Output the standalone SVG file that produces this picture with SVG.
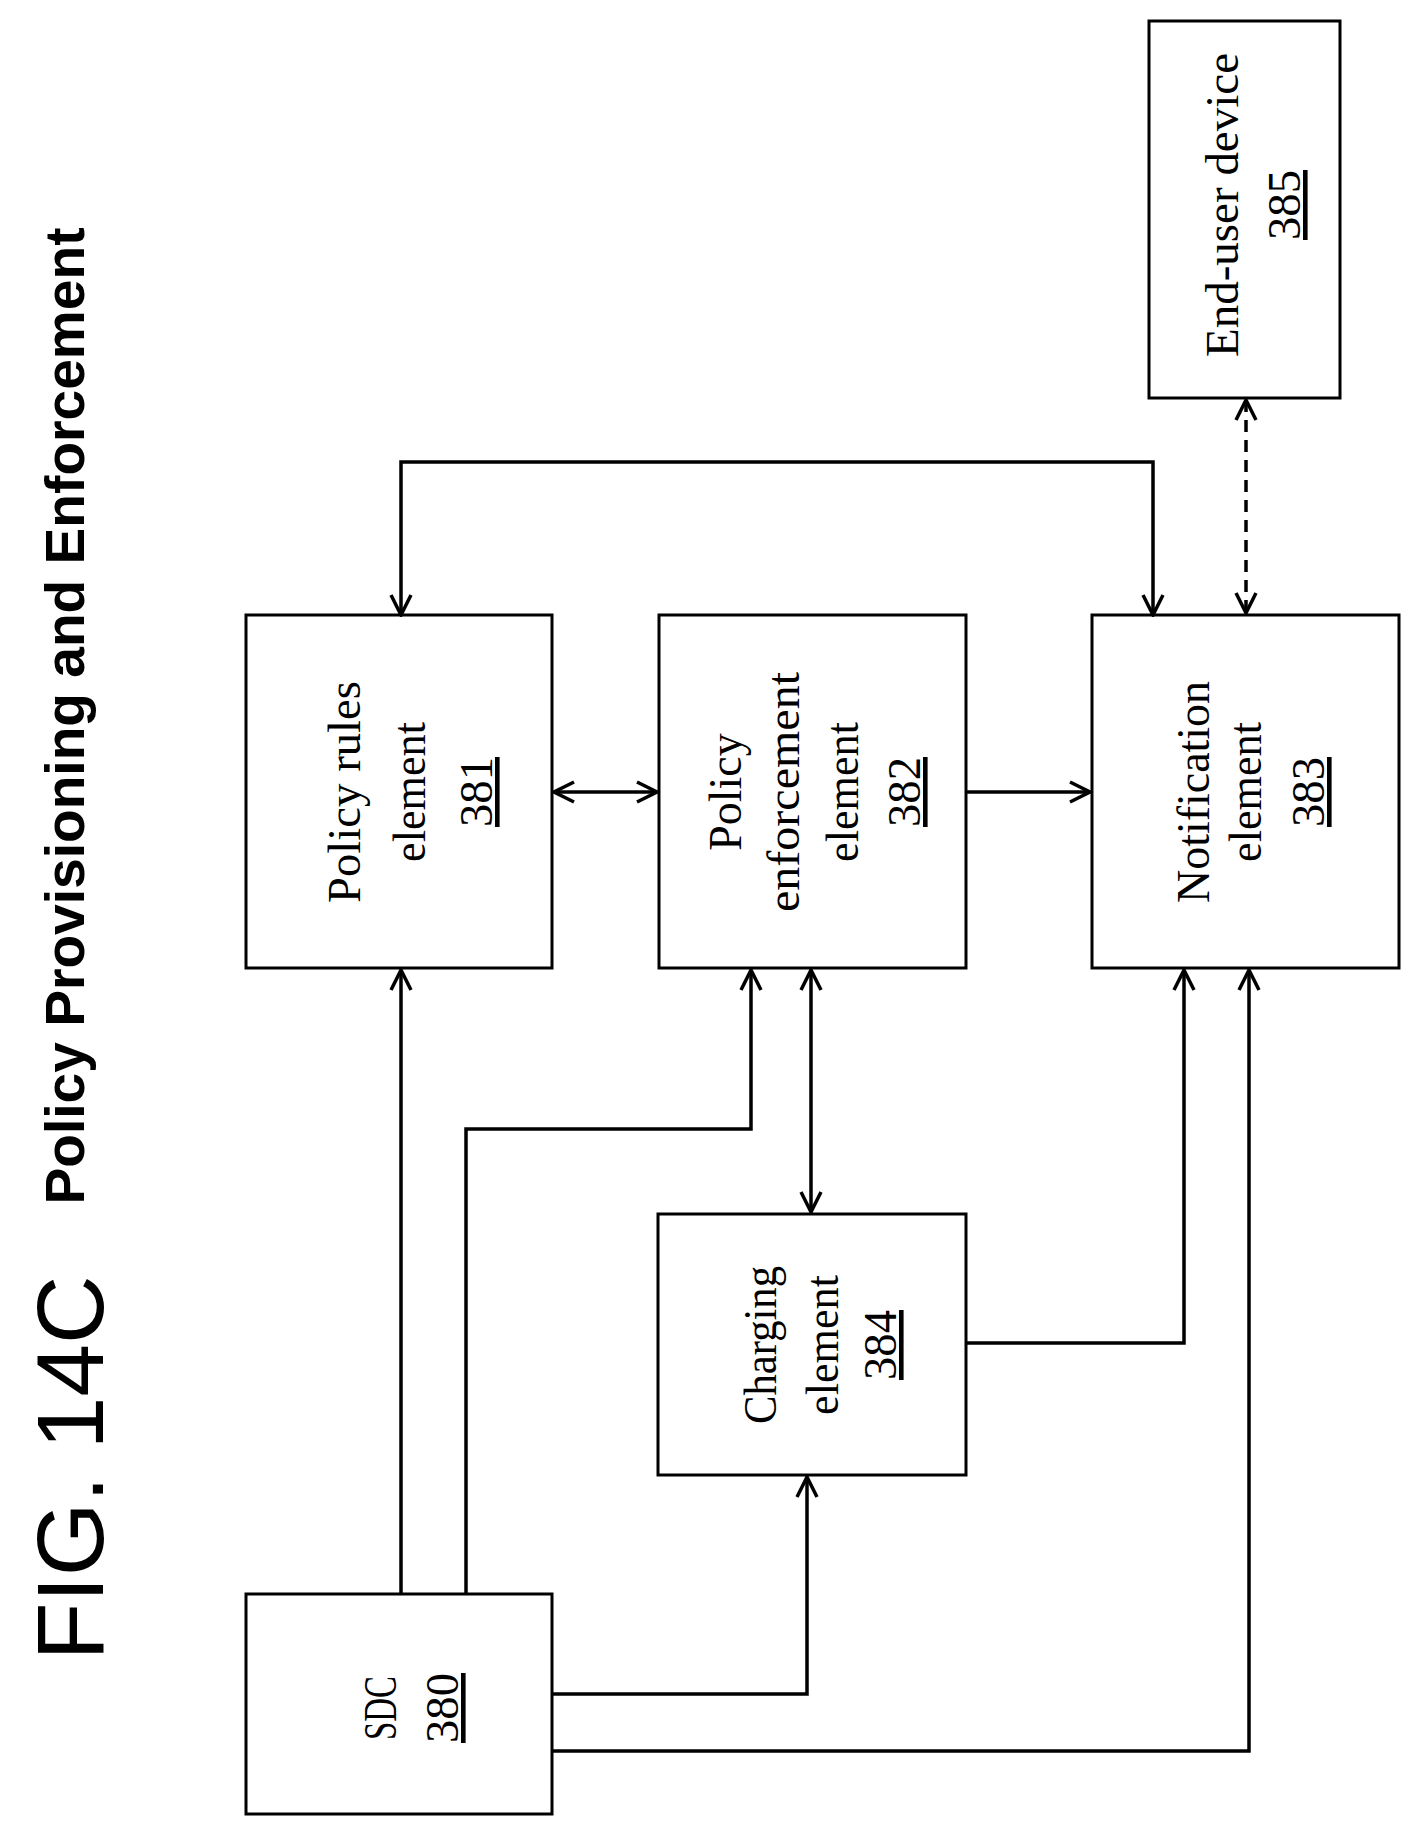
<svg xmlns="http://www.w3.org/2000/svg" width="1428" height="1844" viewBox="0 0 1428 1844">
<style>
.b{fill:none;stroke:#000;stroke-width:3}
.c{fill:none;stroke:#000;stroke-width:3.5}
.d{stroke-dasharray:12,8}
.t{font-family:"Liberation Serif",serif;font-size:46px;text-anchor:middle}
.u{text-decoration:underline}
</style>
<defs>
<marker id="a" viewBox="0 0 24 24" refX="22" refY="12" markerWidth="24" markerHeight="24" markerUnits="userSpaceOnUse" orient="auto-start-reverse">
<path d="M2,2 L22,12 L2,22" fill="none" stroke="#000" stroke-width="3.5"/>
</marker>
</defs>
<g id="title">
<text transform="translate(103,1468) rotate(-90)" font-family="Liberation Sans,Arial,sans-serif" font-size="95" text-anchor="middle" textLength="385" lengthAdjust="spacingAndGlyphs">FIG. 14C</text>
<text transform="translate(84,716) rotate(-90)" font-family="Liberation Sans,Arial,sans-serif" font-weight="bold" font-size="56" text-anchor="middle" textLength="977" lengthAdjust="spacingAndGlyphs">Policy Provisioning and  Enforcement</text>
</g>
<g id="n381"><rect class="b" x="246" y="615" width="306" height="353"/>
<text class="t" transform="translate(360,792) rotate(-90)" textLength="222" lengthAdjust="spacingAndGlyphs">Policy rules</text>
<text class="t" transform="translate(425,792) rotate(-90)" textLength="140" lengthAdjust="spacingAndGlyphs">element</text>
<text class="t u" transform="translate(492,792) rotate(-90)" textLength="70" lengthAdjust="spacingAndGlyphs">381</text></g>
<g id="n382"><rect class="b" x="659" y="615" width="307" height="353"/>
<text class="t" transform="translate(741,792) rotate(-90)">Policy</text>
<text class="t" transform="translate(799,792) rotate(-90)" textLength="240" lengthAdjust="spacingAndGlyphs">enforcement</text>
<text class="t" transform="translate(858,792) rotate(-90)" textLength="140" lengthAdjust="spacingAndGlyphs">element</text>
<text class="t u" transform="translate(920,792) rotate(-90)" textLength="70" lengthAdjust="spacingAndGlyphs">382</text></g>
<g id="n383"><rect class="b" x="1092" y="615" width="307" height="353"/>
<text class="t" transform="translate(1209,792) rotate(-90)" textLength="222" lengthAdjust="spacingAndGlyphs">Notification</text>
<text class="t" transform="translate(1261,792) rotate(-90)" textLength="140" lengthAdjust="spacingAndGlyphs">element</text>
<text class="t u" transform="translate(1324,792) rotate(-90)" textLength="70" lengthAdjust="spacingAndGlyphs">383</text></g>
<g id="n384"><rect class="b" x="658" y="1214" width="308" height="261"/>
<text class="t" transform="translate(776,1345) rotate(-90)" textLength="158" lengthAdjust="spacingAndGlyphs">Charging</text>
<text class="t" transform="translate(838,1345) rotate(-90)" textLength="140" lengthAdjust="spacingAndGlyphs">element</text>
<text class="t u" transform="translate(896,1345) rotate(-90)" textLength="70" lengthAdjust="spacingAndGlyphs">384</text></g>
<g id="n385"><rect class="b" x="1149" y="21" width="191" height="377"/>
<text class="t" transform="translate(1238,205) rotate(-90)" textLength="304" lengthAdjust="spacingAndGlyphs">End-user device</text>
<text class="t u" transform="translate(1300,205) rotate(-90)" textLength="70" lengthAdjust="spacingAndGlyphs">385</text></g>
<g id="n380"><rect class="b" x="246" y="1594" width="306" height="220"/>
<text class="t" transform="translate(396,1708) rotate(-90)" textLength="64" lengthAdjust="spacingAndGlyphs">SDC</text>
<text class="t u" transform="translate(458,1708) rotate(-90)" textLength="70" lengthAdjust="spacingAndGlyphs">380</text></g>
<g id="connectors">
<path class="c" d="M401,615 V462 H1153 V615" marker-start="url(#a)" marker-end="url(#a)"/>
<path class="c d" d="M1246,400 V613" marker-start="url(#a)" marker-end="url(#a)"/>
<path class="c" d="M554,792 H657" marker-start="url(#a)" marker-end="url(#a)"/>
<path class="c" d="M966,792 H1090" marker-end="url(#a)"/>
<path class="c" d="M401,1594 V970" marker-end="url(#a)"/>
<path class="c" d="M466,1594 V1129 H751 V970" marker-end="url(#a)"/>
<path class="c" d="M811,970 V1212" marker-start="url(#a)" marker-end="url(#a)"/>
<path class="c" d="M966,1343 H1184 V970" marker-end="url(#a)"/>
<path class="c" d="M552,1694 H807 V1477" marker-end="url(#a)"/>
<path class="c" d="M552,1751 H1249 V970" marker-end="url(#a)"/>
</g>
</svg>
